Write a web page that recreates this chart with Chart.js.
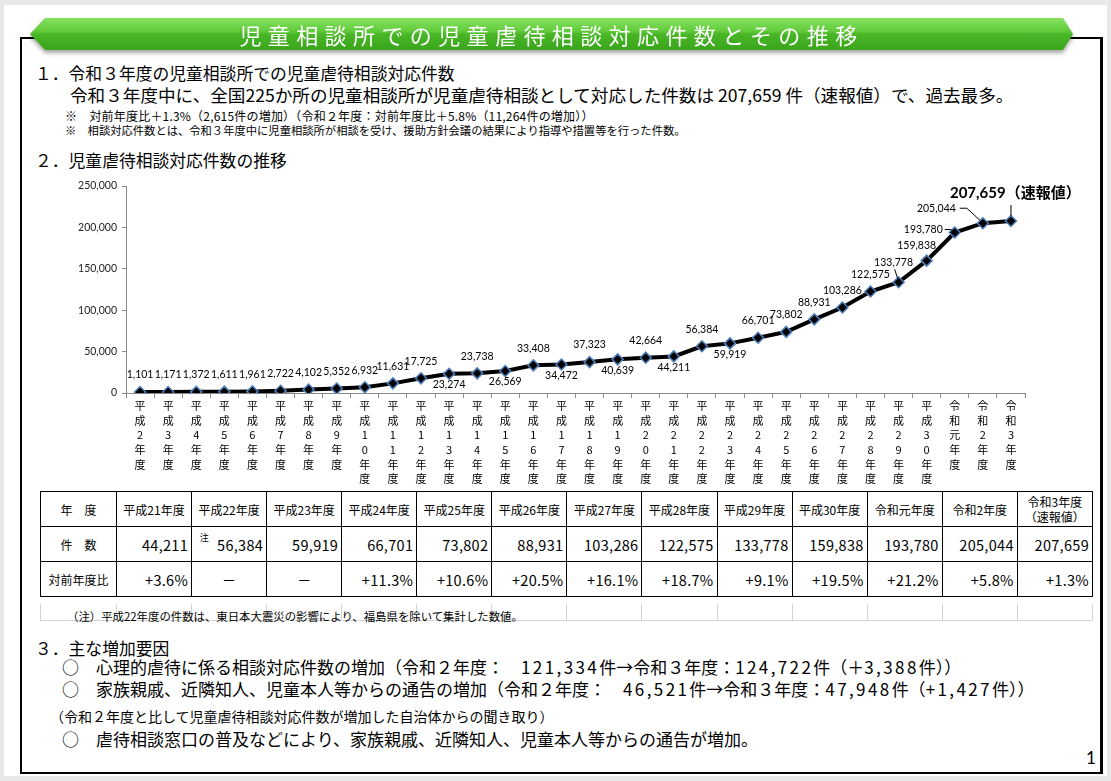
<!DOCTYPE html>
<html lang="ja">
<head>
<meta charset="utf-8">
<title>児童相談所での児童虐待相談対応件数とその推移</title>
<script src="https://cdn.jsdelivr.net/npm/chart.js@4.4.1/dist/chart.umd.min.js"></script>
<style>
  body { margin: 0; width: 1111px; height: 781px; background: #e8e8e8; position: relative; overflow: hidden;
         font-family: "Noto Sans CJK JP", sans-serif; color: #000; }
  .abs { position: absolute; white-space: nowrap; }
  #slide { left: 4px; top: 5px; width: 1103px; height: 771px; background: #fff; }
  #frame { left: 20px; top: 37px; width: 1083px; height: 737px; box-sizing: border-box;
           border: 2px solid #000; border-right-width: 3px; }
  #banner-wrap { left: 30px; top: 18px; width: 1043px; height: 32px; filter: drop-shadow(0 3px 2px rgba(0,0,0,0.35)); z-index: 2; }
  #banner { width: 100%; height: 100%;
            clip-path: polygon(0 50%, 15px 0, calc(100% - 10px) 0, 100% 50%, calc(100% - 10px) 100%, 15px 100%);
            background: linear-gradient(to bottom, #86e060 0%, #62cc3c 40%, #48b526 52%, #3aa51c 100%);
            color: #fff; font-size: 22px; line-height: 32px; text-align: center; letter-spacing: 6.4px; }
  .h { font-size: 16.8px; line-height: 17px; }
  .b { font-size: 17px; line-height: 17px; }
  .b span { letter-spacing: 2.4px; }
  #chart-box { left: 40px; top: 172px; width: 1060px; height: 318px; }
  table { border-collapse: collapse; table-layout: fixed; }
  #tbl { left: 40px; top: 491px; width: 1053px; }
  #tbl td { border: 1.5px solid #000; height: 34px; padding: 0 3px; font-size: 12px; text-align: center; background: #fff; }
  #tbl td.num { font-size: 14.5px; text-align: right; letter-spacing: 0.3px; }
  #tbl td.dash { font-size: 14px; text-align: center; }
  #tbl sup { font-size: 9px; position: relative; top: -4px; margin-right: 8px; }
  #tblnote { left: 40px; top: 604px; width: 1053px; }
  #tblnote td { border: 1px solid #d4d4d4; border-top: none; height: 16px; padding: 0; }
</style>
</head>
<body>
<div class="abs" id="slide"></div>
<div class="abs" id="frame"></div>
<div class="abs" id="banner-wrap"><div id="banner">児童相談所での児童虐待相談対応件数とその推移</div></div>

<div class="abs h" style="left:35px; top:65px;">１．令和３年度の児童相談所での児童虐待相談対応件数</div>
<div class="abs" style="left:70px; top:86px; font-size:17.6px; line-height:18px;">令和３年度中に、全国225か所の児童相談所が児童虐待相談として対応した件数は 207,659 件（速報値）で、過去最多。</div>
<div class="abs" style="left:65px; top:110px; font-size:12px; line-height:12px; letter-spacing:0.2px;">※　対前年度比＋1.3%（2,615件の増加）（令和２年度：対前年度比＋5.8%（11,264件の増加））</div>
<div class="abs" style="left:65px; top:124px; font-size:11.3px; line-height:12px;">※　相談対応件数とは、令和３年度中に児童相談所が相談を受け、援助方針会議の結果により指導や措置等を行った件数。</div>
<div class="abs h" style="left:35px; top:152px;">２．児童虐待相談対応件数の推移</div>

<div class="abs" id="chart-box"><canvas id="chart"></canvas></div>

<table class="abs" id="tbl"></table>
<table class="abs" id="tblnote"></table>
<div class="abs" style="left:67px; top:610px; font-size:11.4px; line-height:12px;">（注）平成22年度の件数は、東日本大震災の影響により、福島県を除いて集計した数値。</div>

<div class="abs h" style="left:35px; top:640px;">３．主な増加要因</div>
<div class="abs b" style="left:62px; top:658px;">○　心理的虐待に係る相談対応件数の増加（令和２年度：　<span>121,334</span>件→令和３年度：<span>124,722</span>件（＋<span>3,388</span>件））</div>
<div class="abs b" style="left:62px; top:680px;">○　家族親戚、近隣知人、児童本人等からの通告の増加（令和２年度：　<span>46,521</span>件→令和３年度：<span>47,948</span>件（<span>+1,427</span>件））</div>
<div class="abs" style="left:50px; top:709px; font-size:14px; line-height:14px;">（令和２年度と比して児童虐待相談対応件数が増加した自治体からの聞き取り）</div>
<div class="abs b" style="left:62px; top:730px;">○　虐待相談窓口の普及などにより、家族親戚、近隣知人、児童本人等からの通告が増加。</div>
<div class="abs" style="left:1086px; top:749px; font-size:17px; line-height:18px; font-family:Lato, sans-serif;">1</div>

<script>
// 年度（グラフの横軸）
const years = [
  '平成2年度', '平成3年度', '平成4年度', '平成5年度', '平成6年度', '平成7年度', '平成8年度', '平成9年度',
  '平成10年度', '平成11年度', '平成12年度', '平成13年度', '平成14年度', '平成15年度', '平成16年度',
  '平成17年度', '平成18年度', '平成19年度', '平成20年度', '平成21年度', '平成22年度', '平成23年度',
  '平成24年度', '平成25年度', '平成26年度', '平成27年度', '平成28年度', '平成29年度', '平成30年度',
  '令和元年度', '令和2年度', '令和3年度'
];
// 相談対応件数
const counts = [
  1101, 1171, 1372, 1611, 1961, 2722, 4102, 5352, 6932, 11631, 17725, 23274, 23738, 26569, 33408,
  34472, 37323, 40639, 42664, 44211, 56384, 59919, 66701, 73802, 88931, 103286, 122575, 133778,
  159838, 193780, 205044, 207659
];
const yTicks = [0, 50000, 100000, 150000, 200000, 250000];

// 表（平成21年度～）
const tableYears = [
  '平成21年度', '平成22年度', '平成23年度', '平成24年度', '平成25年度', '平成26年度', '平成27年度',
  '平成28年度', '平成29年度', '平成30年度', '令和元年度', '令和2年度', '令和3年度\n（速報値）'
];
const tableRatios = ['+3.6%', '－', '－', '+11.3%', '+10.6%', '+20.5%', '+16.1%', '+18.7%', '+9.1%',
  '+19.5%', '+21.2%', '+5.8%', '+1.3%'];

// ラベルの置き方 a:上 b:下 その他は個別
const labelPlace = ['a','a','a','a','a','a','a','a','a','a','a','b','a','b','a','b','a','b','a','b',
  'a','b','a','a','a','a','a','lead','al','left1','left2','top'];

const fmt = v => v.toLocaleString('en-US');

function line(ctx, pts) {
  ctx.beginPath();
  ctx.moveTo(pts[0][0], pts[0][1]);
  pts.slice(1).forEach(p => ctx.lineTo(p[0], p[1]));
  ctx.stroke();
}

const pointLabels = {
  id: 'pointLabels',
  afterDatasetsDraw(chart) {
    const ctx = chart.ctx;
    const meta = chart.getDatasetMeta(0);
    ctx.save();
    ctx.fillStyle = '#000';
    ctx.strokeStyle = '#000';
    ctx.lineWidth = 1;
    ctx.textBaseline = 'middle';
    ctx.font = '10.5px Lato, sans-serif';
    meta.data.forEach((pt, i) => {
      const x = pt.x, y = pt.y;
      const txt = fmt(counts[i]);
      const p = labelPlace[i];
      ctx.textAlign = 'center';
      if (p === 'a') ctx.fillText(txt, x, y - 17);
      else if (p === 'b') ctx.fillText(txt, x, y + 11);
      else if (p === 'al') ctx.fillText(txt, x - 10, y - 15);
      else if (p === 'lead') {
        ctx.fillText(txt, x - 5, y - 20);
        line(ctx, [[x - 4, y - 13], [x - 1, y - 4]]);
      } else if (p === 'left1') {
        ctx.textAlign = 'right';
        ctx.fillText(txt, x - 12, y - 3);
        line(ctx, [[x - 10, y - 3], [x - 4, y - 3], [x - 1, y - 1]]);
      } else if (p === 'left2') {
        ctx.textAlign = 'right';
        ctx.fillText(txt, x - 27, y - 15);
        line(ctx, [[x - 23, y - 15], [x - 16, y - 15], [x - 3, y - 3]]);
      } else if (p === 'top') {
        ctx.textAlign = 'left';
        ctx.font = 'bold 15px Lato, "Noto Sans CJK JP", sans-serif';
        ctx.fillText(txt + '（速報値）', x - 61, y - 28);
        line(ctx, [[x, y - 16], [x, y - 5]]);
      }
    });
    ctx.restore();
  }
};

new Chart(document.getElementById('chart'), {
  type: 'line',
  data: {
    labels: years,
    datasets: [{
      data: counts,
      borderColor: '#000',
      borderWidth: 4,
      tension: 0,
      pointStyle: 'rectRot',
      pointRadius: 5.5,
      pointBackgroundColor: '#000',
      pointBorderColor: '#4f81bd',
      pointBorderWidth: 1.5
    }]
  },
  options: {
    responsive: true,
    maintainAspectRatio: false,
    animation: false,
    layout: { padding: { top: 14, right: 75, left: 0, bottom: 0 } },
    plugins: { legend: { display: false }, tooltip: { enabled: false } },
    scales: {
      x: {
        offset: true,
        grid: { offset: true, drawOnChartArea: false, tickLength: 5, color: '#888' },
        border: { color: '#888', width: 1 },
        ticks: {
          autoSkip: false, maxRotation: 0, minRotation: 0, padding: 1, color: '#000',
          font: { family: '"Noto Sans CJK JP", sans-serif', size: 11, lineHeight: 1.32 },
          callback: function (v) { return Array.from(this.getLabelForValue(v)); }
        },
        afterFit: s => { s.height = 97; }
      },
      y: {
        min: 0, max: 250000,
        afterBuildTicks: s => { s.ticks = yTicks.map(v => ({ value: v })); },
        grid: { drawOnChartArea: false, tickLength: 4, color: '#888' },
        border: { color: '#888', width: 1 },
        ticks: { padding: 5, color: '#222', font: { family: 'Lato, sans-serif', size: 10.5 }, callback: v => fmt(v) },
        afterFit: s => { s.width = 86; }
      }
    }
  },
  plugins: [pointLabels]
});

// 表
const tbl = document.getElementById('tbl');
const first = counts.length - tableYears.length;
let html = '<colgroup><col style="width:76px">' + tableYears.map(() => '<col>').join('') + '</colgroup>';
html += '<tr><td>年　度</td>' + tableYears.map(y => {
  const parts = y.split('\n');
  return parts.length > 1
    ? `<td style="line-height:15px">${parts[0]}<br>${parts[1]}</td>`
    : `<td>${y}</td>`;
}).join('') + '</tr>';
html += '<tr><td>件　数</td>' + tableYears.map((y, i) => {
  const note = i === 1 ? '<sup>注</sup>' : '';
  return `<td class="num">${note}${fmt(counts[first + i])}</td>`;
}).join('') + '</tr>';
html += '<tr><td>対前年度比</td>' + tableRatios.map(r =>
  `<td class="${r === '－' ? 'dash' : 'num'}">${r}</td>`).join('') + '</tr>';
tbl.innerHTML = html;

document.getElementById('tblnote').innerHTML =
  '<colgroup><col style="width:76px">' + tableYears.map(() => '<col>').join('') + '</colgroup>' +
  '<tr><td></td>' + tableYears.map(() => '<td></td>').join('') + '</tr>';
</script>
</body>
</html>
